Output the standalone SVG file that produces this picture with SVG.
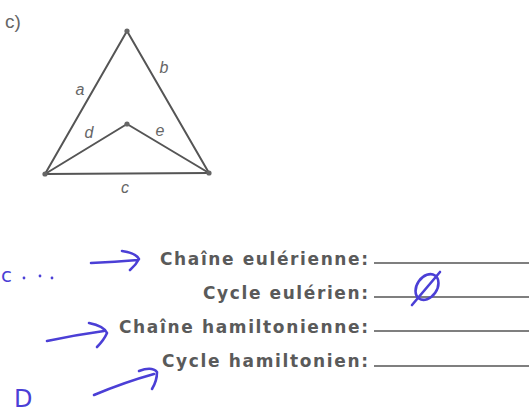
<svg xmlns="http://www.w3.org/2000/svg" width="529" height="415" viewBox="0 0 529 415">
<style>
.edge{stroke:#555;stroke-width:2;fill:none;stroke-linecap:round}
.node{fill:#666}
.lbl{font-family:"Liberation Sans",Arial,sans-serif;font-style:italic;font-size:16px;fill:#666;text-anchor:middle}
.q{font-family:"DejaVu Sans",sans-serif;font-weight:bold;font-size:17px;fill:#5a5a5a;text-anchor:end}
.rule{stroke:#555;stroke-width:1.6}
.ink{stroke:#4b3fd6;stroke-width:2.6;fill:none;stroke-linecap:round;stroke-linejoin:round}
.inkt{font-family:"DejaVu Sans",sans-serif;fill:#4b3fd6}
</style>
<rect width="529" height="415" fill="#fff"/>
<text x="5" y="28" font-family="'Liberation Sans',Arial,sans-serif" font-size="19" fill="#666">c)</text>
<g id="connectors">
<line class="edge" x1="127" y1="31" x2="45" y2="174"/>
<line class="edge" x1="127" y1="31" x2="209" y2="173"/>
<line class="edge" x1="45" y1="174" x2="209" y2="173"/>
<line class="edge" x1="45" y1="174" x2="127" y2="124"/>
<line class="edge" x1="127" y1="124" x2="209" y2="173"/>
<text class="lbl" x="80" y="95">a</text>
<text class="lbl" x="164" y="73">b</text>
<text class="lbl" x="89" y="138">d</text>
<text class="lbl" x="160" y="136">e</text>
<text class="lbl" x="125" y="193">c</text>
</g>
<g id="node-top"><circle class="node" cx="127" cy="31" r="2.6"/></g>
<g id="node-middle"><circle class="node" cx="127" cy="124" r="2.6"/></g>
<g id="node-left"><circle class="node" cx="45" cy="174" r="2.6"/></g>
<g id="node-right"><circle class="node" cx="209" cy="173" r="2.6"/></g>
<g id="questions">
<text class="q" x="368" y="265" textLength="208" lengthAdjust="spacing">Chaîne eulérienne:</text>
<text class="q" x="368" y="299" textLength="165" lengthAdjust="spacing">Cycle eulérien:</text>
<text class="q" x="368" y="333" textLength="249" lengthAdjust="spacing">Chaîne hamiltonienne:</text>
<text class="q" x="368" y="367" textLength="206" lengthAdjust="spacing">Cycle hamiltonien:</text>
<line class="rule" x1="374" y1="263" x2="529" y2="263"/>
<line class="rule" x1="374" y1="297" x2="529" y2="297"/>
<line class="rule" x1="374" y1="331" x2="529" y2="331"/>
<line class="rule" x1="374" y1="366" x2="529" y2="366"/>
</g>
<g id="handwriting">
<text class="inkt" x="1" y="282" font-size="20">c</text>
<circle cx="24" cy="278" r="1.4" fill="#4b3fd6"/>
<circle cx="40" cy="276" r="1.4" fill="#4b3fd6"/>
<circle cx="52" cy="278" r="1.4" fill="#4b3fd6"/>
<path class="ink" d="M91 263 Q115 262 138 260 M122 251 Q136 253 139 259 Q136 265 130 270"/>
<path class="ink" d="M47 341 Q75 335 104 331 M89 323 Q104 326 107 333 Q104 340 97 347"/>
<path class="ink" d="M94 395 Q125 382 154 374 M139 371 Q152 366 157 372 Q157 381 152 389"/>
<text class="inkt" x="14" y="407" font-size="24">D</text>
<path class="ink" d="M412 305 L440 272"/>
<ellipse class="ink" cx="427" cy="287" rx="10" ry="14" transform="rotate(35 427 287)"/>
</g>
</svg>
